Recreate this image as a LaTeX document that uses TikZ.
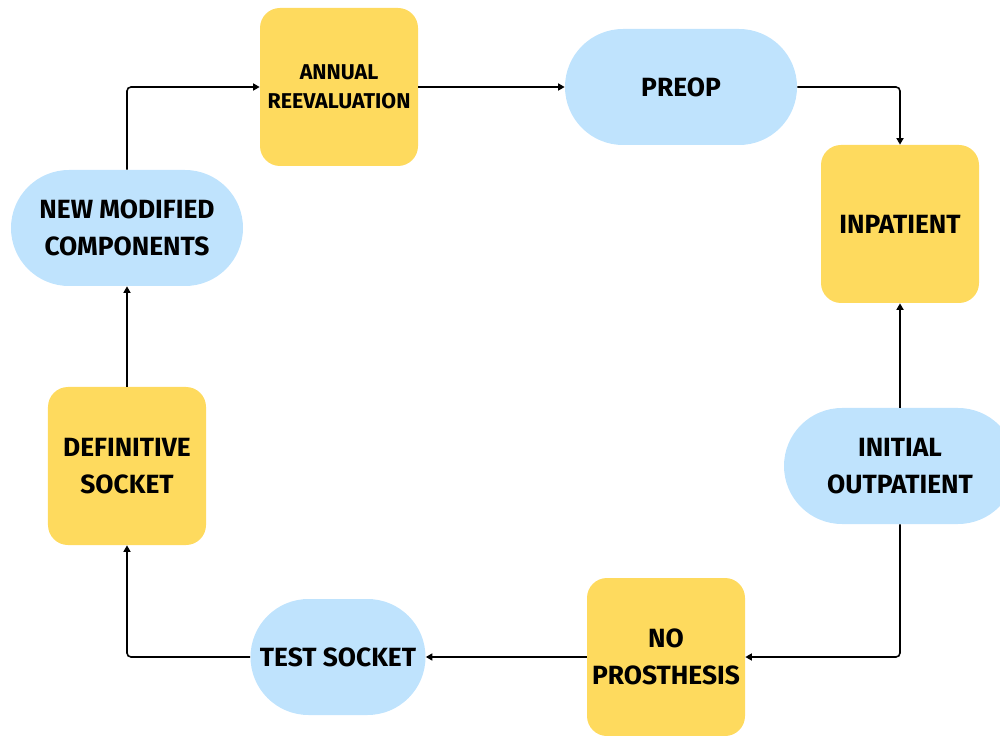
\documentclass[tikz,border=0pt]{standalone}
\usepackage{fontspec}
\setsansfont{Fira Sans}
\usetikzlibrary{arrows.meta,positioning}
\definecolor{stageyellow}{RGB}{254,218,94}
\definecolor{stageblue}{RGB}{191,227,253}
\tikzset{
  box/.style={fill=stageyellow, rounded corners=4mm, minimum width=31.6mm,
    minimum height=31.6mm, inner sep=0pt, align=center,
    font=\sffamily\bfseries\fontsize{15}{21}\selectfont},
  pill/.style={fill=stageblue, rounded corners=11.6mm, minimum width=46.4mm,
    minimum height=23.2mm, inner sep=0pt, align=center,
    font=\sffamily\bfseries\fontsize{15}{21}\selectfont},
  small/.style={font=\sffamily\bfseries\fontsize{12.2}{16.5}\selectfont},
  arrow/.style={-{Triangle[length=1.3mm,width=1.4mm]}, line width=0.9pt,
    draw=black, rounded corners=0.8mm}
}
\begin{document}
\begin{tikzpicture}[x=0.2mm,y=-0.2mm]
  \useasboundingbox (0,0) rectangle (1000,736);
  % stages of the cycle
  \node[box, small] (annual) at (339,87) {ANNUAL\\REEVALUATION};
  \node[pill] (preop) at (681,87) {PREOP};
  \node[box] (inpatient) at (900,224) {INPATIENT};
  \node[pill] (outpatient) at (900,466) {INITIAL\\OUTPATIENT};
  \node[box] (noprost) at (666,657) {NO\\PROSTHESIS};
  \node[pill, minimum width=35mm] (testsocket) at (338,657) {TEST SOCKET};
  \node[box] (defsocket) at (127,466) {DEFINITIVE\\SOCKET};
  \node[pill] (newcomp) at (127,228) {NEW MODIFIED\\COMPONENTS};

  % connectors
  \draw[arrow] (newcomp.north) |- (annual.west); \draw[arrow] (annual) -- (preop);
  \draw[arrow] (preop.east) -| (inpatient.north); \draw[arrow] (outpatient) -- (inpatient);
  \draw[arrow] (outpatient.south) |- (noprost.east); \draw[arrow] (noprost) -- (testsocket);
  \draw[arrow] (testsocket.west) -| (defsocket.south); \draw[arrow] (defsocket) -- (newcomp);
\end{tikzpicture}
\end{document}
